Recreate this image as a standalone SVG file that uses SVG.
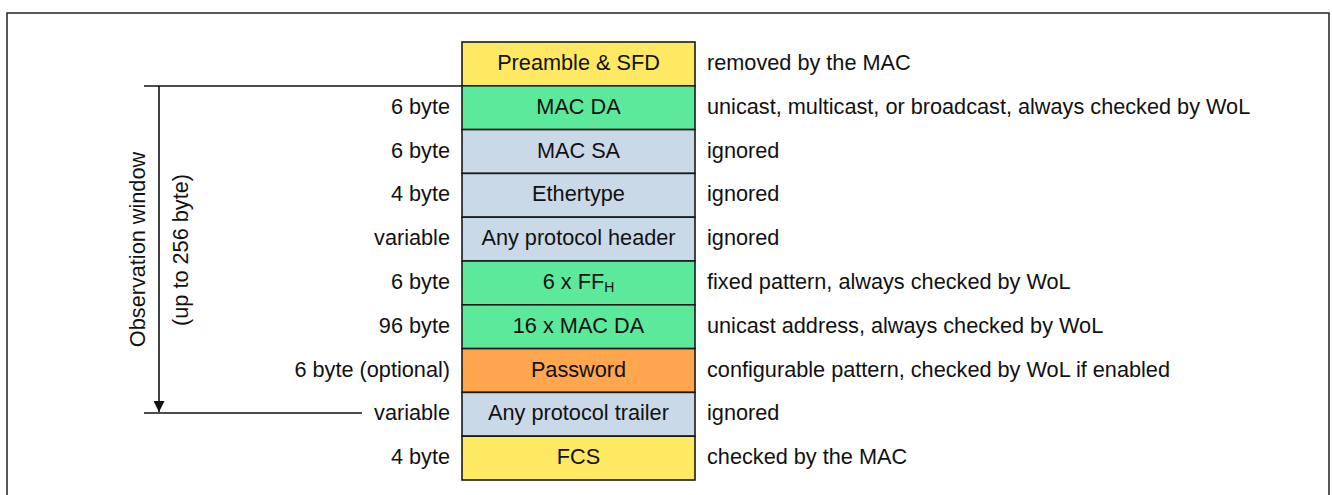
<svg xmlns="http://www.w3.org/2000/svg" width="1332" height="495" viewBox="0 0 1332 495">
<style>
text{font-family:"Liberation Sans",Arial,sans-serif;font-size:21.7px;fill:#111}
.c{text-anchor:middle}
.l{text-anchor:end}
.box{stroke:#1a1a1a;stroke-width:1.6}
.y{fill:#FFE962}.g{fill:#5CE99C}.b{fill:#C9D9E7}.o{fill:#FFA64F}
.ln{stroke:#111;stroke-width:1.6;fill:none}
</style>
<defs>
<marker id="ah" markerWidth="12" markerHeight="11" refX="11" refY="5.5" orient="auto" markerUnits="userSpaceOnUse">
<path d="M0,0 L11,5.5 L0,11 Z" fill="#111"/>
</marker>
</defs>
<rect x="7" y="13" width="1322" height="492" fill="#fff" stroke="#111" stroke-width="1.4"/>
<g id="connectors">
<line class="ln" x1="144" y1="86" x2="462" y2="86"/>
<line class="ln" x1="159" y1="86" x2="159" y2="412" marker-end="url(#ah)"/>
<line class="ln" x1="144" y1="413" x2="362" y2="413"/>
</g>
<g id="observation">
<text class="c" transform="translate(144.5,249.5) rotate(-90)">Observation window</text>
<text class="c" transform="translate(188,250) rotate(-90)">(up to 256 byte)</text>
</g>
<g id="preamble"><rect class="box y" x="462" y="42" width="233" height="43.8"/><text class="c" x="578.5" y="70">Preamble &amp; SFD</text><text x="707" y="70">removed by the MAC</text></g>
<g id="macda"><rect class="box g" x="462" y="85.8" width="233" height="43.8"/><text class="c" x="578.5" y="113.8">MAC DA</text><text class="l" x="450" y="113.8">6 byte</text><text x="707" y="113.8">unicast, multicast, or broadcast, always checked by WoL</text></g>
<g id="macsa"><rect class="box b" x="462" y="129.6" width="233" height="43.8"/><text class="c" x="578.5" y="157.6">MAC SA</text><text class="l" x="450" y="157.6">6 byte</text><text x="707" y="157.6">ignored</text></g>
<g id="ethertype"><rect class="box b" x="462" y="173.4" width="233" height="43.8"/><text class="c" x="578.5" y="201.4">Ethertype</text><text class="l" x="450" y="201.4">4 byte</text><text x="707" y="201.4">ignored</text></g>
<g id="header"><rect class="box b" x="462" y="217.2" width="233" height="43.8"/><text class="c" x="578.5" y="245.2">Any protocol header</text><text class="l" x="450" y="245.2">variable</text><text x="707" y="245.2">ignored</text></g>
<g id="ff"><rect class="box g" x="462" y="261" width="233" height="43.8"/><text class="c" x="578.5" y="289">6 x FF<tspan font-size="14" dy="3">H</tspan></text><text class="l" x="450" y="289">6 byte</text><text x="707" y="289">fixed pattern, always checked by WoL</text></g>
<g id="macda16"><rect class="box g" x="462" y="304.8" width="233" height="43.8"/><text class="c" x="578.5" y="332.8">16 x MAC DA</text><text class="l" x="450" y="332.8">96 byte</text><text x="707" y="332.8">unicast address, always checked by WoL</text></g>
<g id="password"><rect class="box o" x="462" y="348.6" width="233" height="43.8"/><text class="c" x="578.5" y="376.6">Password</text><text class="l" x="450" y="376.6">6 byte (optional)</text><text x="707" y="376.6">configurable pattern, checked by WoL if enabled</text></g>
<g id="trailer"><rect class="box b" x="462" y="392.4" width="233" height="43.8"/><text class="c" x="578.5" y="420.4">Any protocol trailer</text><text class="l" x="450" y="420.4">variable</text><text x="707" y="420.4">ignored</text></g>
<g id="fcs"><rect class="box y" x="462" y="436.2" width="233" height="43.8"/><text class="c" x="578.5" y="464.2">FCS</text><text class="l" x="450" y="464.2">4 byte</text><text x="707" y="464.2">checked by the MAC</text></g>
</svg>
